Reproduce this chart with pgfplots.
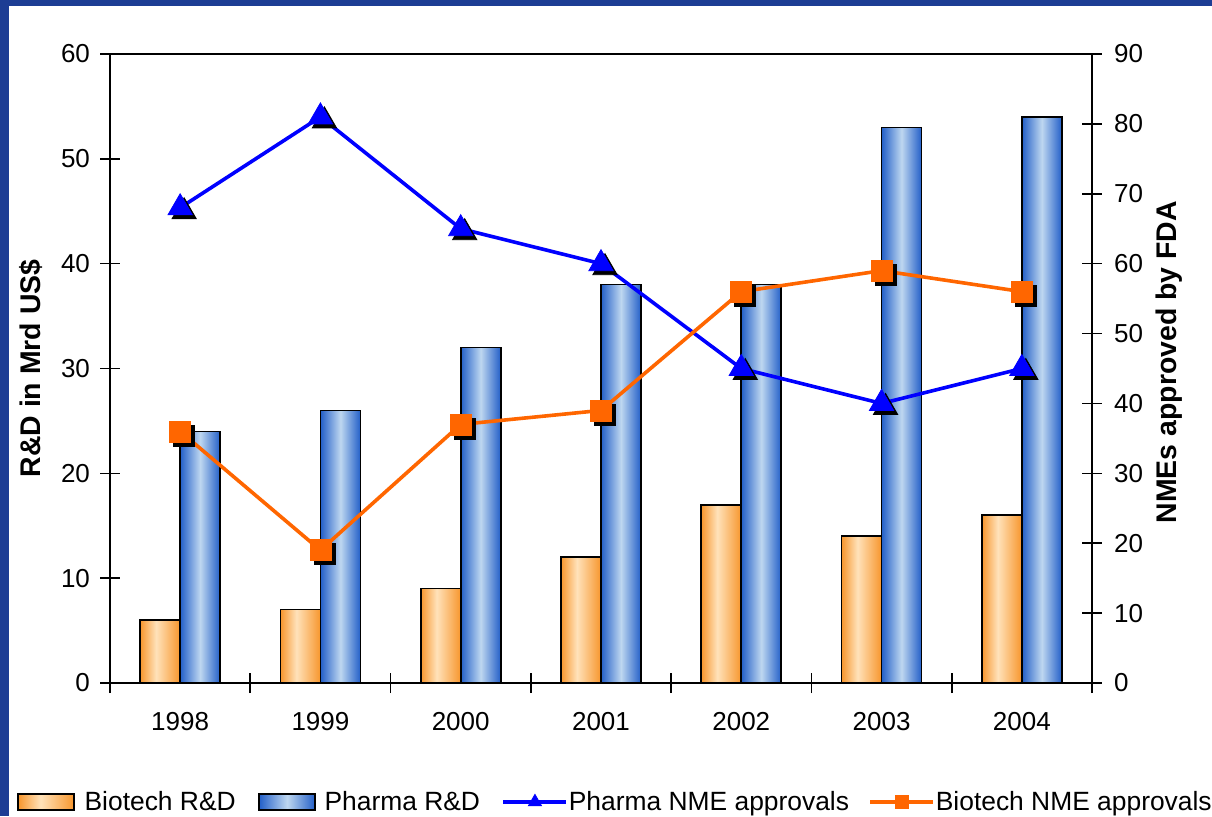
\documentclass[border=0pt]{standalone}
\usepackage{pgfplots}
\pgfplotsset{compat=1.18}
\usepackage{fontspec}
\setmainfont{Liberation Sans}
\definecolor{frameblue}{RGB}{29,61,148}
\definecolor{ordark}{RGB}{247,150,45}
\definecolor{orlight}{RGB}{255,226,186}
\definecolor{bldark}{RGB}{35,95,200}
\definecolor{bllight}{RGB}{190,215,240}
\definecolor{nmeorange}{RGB}{255,102,0}
\definecolor{nmeblue}{RGB}{0,0,255}
\pgfdeclarehorizontalshading{orshade}{100bp}{color(0bp)=(ordark); color(25bp)=(ordark); color(45bp)=(orlight); color(75bp)=(ordark); color(100bp)=(ordark)}
\pgfdeclarehorizontalshading{blshade}{100bp}{color(0bp)=(bldark); color(25bp)=(bldark); color(50bp)=(bllight); color(75bp)=(bldark); color(100bp)=(bldark)}
\newcommand\tickfont{\fontsize{13}{15}\selectfont}
\newcommand\labfont{\fontsize{14.2}{16}\selectfont\bfseries}
\pgfplotsset{
  biobar/.style={ybar, bar width=20pt, bar shift=-10pt, draw=black, line width=0.8pt, shade, shading=orshade, forget plot},
  phabar/.style={ybar, bar width=20pt, bar shift=10pt, draw=black, line width=0.8pt, shade, shading=blshade, forget plot},
}
\begin{document}
\begin{tikzpicture}
\useasboundingbox (0,0) rectangle (606pt,408pt);
\fill[frameblue] (0,0) rectangle (606pt,408pt);
\fill[white] (4.5pt,0) rectangle (606pt,405pt);
\begin{axis}[
  at={(55pt,66.5pt)}, anchor=south west,
  scale only axis, width=491pt, height=314.5pt,
  xmin=0.5, xmax=7.5, ymin=0, ymax=60,
  xtick={0.5,1.5,...,7.5}, x tick label as interval,
  xticklabels={1998,1999,2000,2001,2002,2003,2004},
  ytick={0,10,...,60},
  xtick pos=left, ytick pos=left,
  tick align=center, major tick length=10pt,
  tick style={black, line width=0.8pt},
  axis line style={black, line width=0.8pt},
  ticklabel style={font=\tickfont},
  xticklabel style={yshift=-6pt},
  yticklabel style={xshift=-1.5pt},
  /pgf/number format/assume math mode=true,
  ylabel={R\&D in Mrd US\$},
  ylabel style={font=\labfont, at={(axis description cs:-0.0804,0.5)}, anchor=center},
]
% Biotech R&D
\addplot[biobar] coordinates {(1,6)};
\addplot[biobar] coordinates {(2,7)};
\addplot[biobar] coordinates {(3,9)};
\addplot[biobar] coordinates {(4,12)};
\addplot[biobar] coordinates {(5,17)};
\addplot[biobar] coordinates {(6,14)};
\addplot[biobar] coordinates {(7,16)};
% Pharma R&D
\addplot[phabar] coordinates {(1,24)};
\addplot[phabar] coordinates {(2,26)};
\addplot[phabar] coordinates {(3,32)};
\addplot[phabar] coordinates {(4,38)};
\addplot[phabar] coordinates {(5,38)};
\addplot[phabar] coordinates {(6,53)};
\addplot[phabar] coordinates {(7,54)};
\end{axis}
\begin{axis}[
  at={(55pt,66.5pt)}, anchor=south west,
  scale only axis, width=491pt, height=314.5pt,
  xmin=0.5, xmax=7.5, ymin=0, ymax=90,
  axis y line*=right, axis x line=none,
  ytick={0,10,...,90},
  tick align=center, major tick length=10pt,
  tick style={black, line width=0.8pt},
  axis line style={black, line width=0.8pt},
  ticklabel style={font=\tickfont},
  yticklabel style={xshift=2.5pt},
  /pgf/number format/assume math mode=true,
  ylabel={NMEs approved by FDA},
  ylabel style={font=\labfont, at={(axis description cs:1.0784,0.51)}, anchor=center},
  clip=false,
  legend columns=4,
  legend style={draw=none, fill=none, inner xsep=0pt, inner ysep=0pt,
    at={(axis description cs:-0.0947,-0.1892)}, anchor=west,
    font=\fontsize{13.2}{15}\selectfont, nodes={inner xsep=0pt, inner ysep=0pt}},
]
\addlegendimage{legend image code/.code={
  \draw[black, line width=0.8pt, shade, shading=orshade] (0pt,-4pt) rectangle (28pt,4pt);
  \path (33pt,0pt);}}
\addlegendentry{Biotech R\&D}
\addlegendimage{legend image code/.code={
  \path (-11.5pt,0pt);
  \draw[black, line width=0.8pt, shade, shading=blshade] (0pt,-4pt) rectangle (28pt,4pt);
  \path (32.5pt,0pt);}}
\addlegendentry{Pharma R\&D}
\addlegendimage{legend image code/.code={
  \path (-11.5pt,0pt);
  \draw[nmeblue, line width=1.8pt] (0pt,0pt) -- (31.5pt,0pt);
  \draw[nmeblue] plot[mark=triangle*, mark size=3.8pt] coordinates {(15.75pt,0pt)};
  \path (32.5pt,0pt);}}
\addlegendentry{Pharma NME approvals}
\addlegendimage{legend image code/.code={
  \path (-10.5pt,0pt);
  \draw[nmeorange, line width=1.8pt] (0pt,0pt) -- (31.5pt,0pt);
  \draw[nmeorange] plot[mark=square*, mark size=3.2pt] coordinates {(15.75pt,0pt)};
  \path (32.5pt,0pt);}}
\addlegendentry{Biotech NME approvals}
% Pharma NME approvals
\addplot[nmeblue, line width=1.8pt, forget plot] coordinates {(1,68) (2,81) (3,65) (4,60) (5,45) (6,40) (7,45)};
\addplot[only marks, mark=triangle*, mark size=7pt, black, mark options={xshift=2pt, yshift=-2pt}, forget plot] coordinates {(1,68) (2,81) (3,65) (4,60) (5,45) (6,40) (7,45)};
\addplot[only marks, mark=triangle*, mark size=7pt, nmeblue, forget plot] coordinates {(1,68) (2,81) (3,65) (4,60) (5,45) (6,40) (7,45)};
% Biotech NME approvals
\addplot[nmeorange, line width=1.8pt, forget plot] coordinates {(1,36) (2,19) (3,37) (4,39) (5,56) (6,59) (7,56)};
\addplot[only marks, mark=square*, mark size=5.25pt, black, mark options={xshift=2pt, yshift=-2pt}, forget plot] coordinates {(1,36) (2,19) (3,37) (4,39) (5,56) (6,59) (7,56)};
\addplot[only marks, mark=square*, mark size=5.25pt, nmeorange, forget plot] coordinates {(1,36) (2,19) (3,37) (4,39) (5,56) (6,59) (7,56)};
\end{axis}
\end{tikzpicture}
\end{document}
